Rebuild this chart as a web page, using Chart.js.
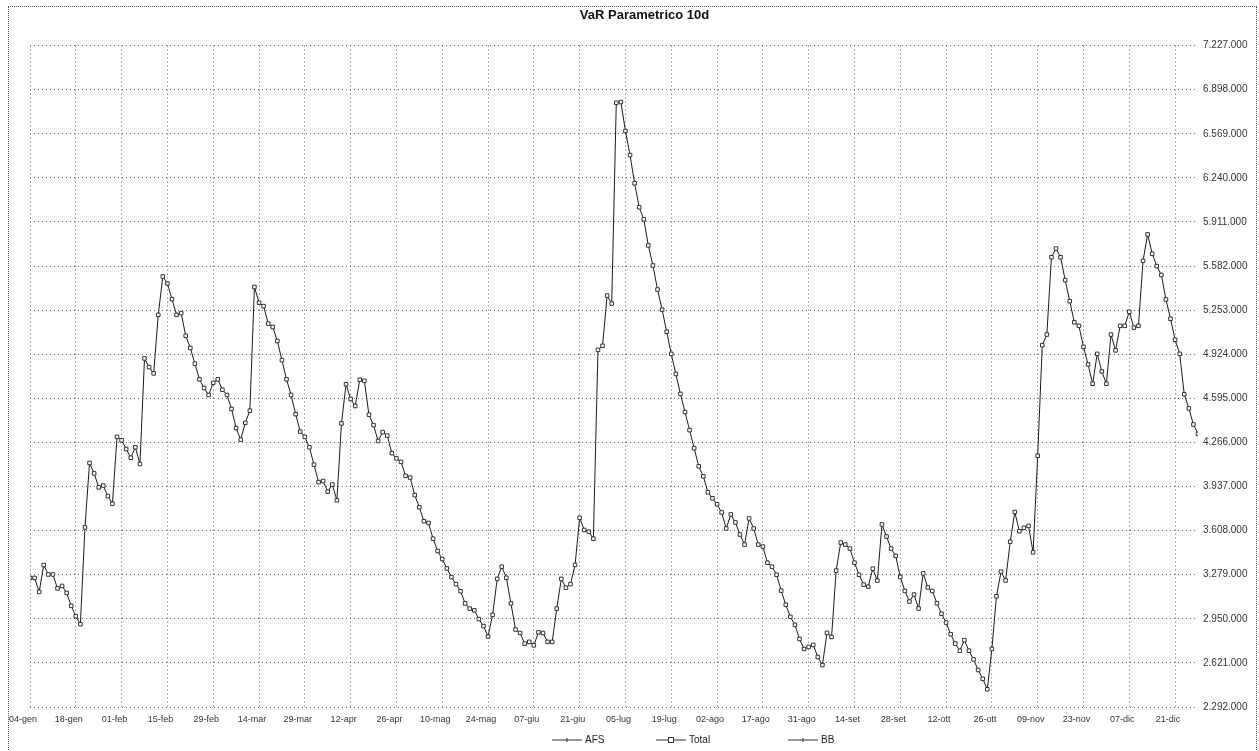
<!DOCTYPE html>
<html>
<head>
<meta charset="utf-8">
<script src="https://cdn.jsdelivr.net/npm/chart.js@4.4.1/dist/chart.umd.min.js"></script>
<style>
  body { margin: 0; background: #fff; }
  #wrap { position: relative; width: 1259px; height: 751px; }
  #frame { position: absolute; left: 8px; top: 6px; width: 1247px; height: 760px; border: 1px dotted #555; }
  canvas { position: absolute; left: 0; top: 0; }
</style>
</head>
<body>
<div id="wrap">
  <div id="frame"></div>
  <canvas id="myChart" width="1259" height="751"></canvas>
</div>
<script>
// x tick labels, one every 10 business days
const tickLabels = ['04-gen', '18-gen', '01-feb', '15-feb', '29-feb', '14-mar', '29-mar', '12-apr', '26-apr',
    '10-mag', '24-mag', '07-giu', '21-giu', '05-lug', '19-lug', '02-ago', '17-ago', '31-ago', '14-set',
    '28-set', '12-ott', '26-ott', '09-nov', '23-nov', '07-dic', '21-dic'];

const seriesNames = ['AFS', 'Total', 'BB'];

// VaR total, daily values (euro)
const totalVaR = [
    3255000, 3255000, 3151000, 3351000, 3281000, 3281000, 3177000, 3195000, 3143000, 3047000,
    2969000, 2910000, 3632000, 4113000, 4035000, 3931000, 3944000, 3866000, 3809000, 4308000,
    4282000, 4217000, 4152000, 4230000, 4105000, 4893000, 4828000, 4781000, 5218000, 5504000,
    5452000, 5335000, 5218000, 5231000, 5062000, 4971000, 4854000, 4737000, 4672000, 4620000,
    4711000, 4737000, 4659000, 4620000, 4516000, 4373000, 4287000, 4412000, 4503000, 5426000,
    5309000, 5283000, 5153000, 5127000, 5023000, 4880000, 4737000, 4620000, 4477000, 4347000,
    4308000, 4230000, 4100000, 3970000,
    3978000, 3899000, 3952000, 3834000, 4408000, 4700000, 4590000, 4538000, 4734000, 4726000,
    4473000, 4395000, 4277000, 4343000, 4317000, 4186000, 4147000, 4121000, 4017000, 4004000,
    3873000, 3782000, 3678000, 3665000, 3548000, 3456000, 3396000, 3326000, 3261000, 3209000,
    3156000, 3065000, 3026000, 3013000, 2948000, 2896000, 2818000, 2979000, 3248000, 3339000,
    3256000, 3065000, 2870000, 2844000, 2765000, 2778000, 2752000, 2849000, 2844000, 2778000,
    2778000, 3026000, 3248000, 3182000, 3209000, 3352000, 3704000, 3613000, 3600000, 3548000,
    4957000, 4987000, 5362000, 5302000, 6800000, 6806000, 6590000, 6410000, 6200000, 6021000,
    5931000, 5736000, 5586000, 5407000, 5257000, 5092000, 4927000, 4777000, 4628000, 4493000,
    4358000, 4223000, 4088000, 4013000, 3894000, 3849000, 3804000, 3744000, 3624000, 3729000,
    3669000, 3579000, 3504000, 3699000, 3624000, 3504000, 3489000, 3369000, 3339000, 3279000,
    3160000, 3055000, 2965000, 2905000, 2800000, 2725000, 2740000, 2755000, 2665000, 2605000,
    2845000, 2815000, 3310000, 3519000, 3504000, 3474000, 3369000, 3279000, 3205000, 3190000,
    3324000, 3235000, 3654000, 3564000, 3474000,
    3420000, 3262000, 3158000, 3079000, 3131000, 3027000, 3289000, 3184000, 3158000, 3066000,
    2988000, 2922000, 2835000, 2765000, 2712000, 2791000, 2712000, 2647000, 2568000, 2502000,
    2424000, 2725000, 3118000, 3302000, 3236000, 3525000, 3747000, 3603000, 3629000, 3643000,
    3446000, 4167000, 4992000, 5071000, 5648000, 5713000, 5648000, 5477000, 5320000, 5163000,
    5136000, 4979000, 4848000, 4704000, 4927000, 4796000, 4704000, 5071000, 4953000, 5136000,
    5136000, 5241000, 5123000, 5136000, 5621000, 5818000, 5674000, 5582000, 5516000, 5333000,
    5189000, 5032000, 4927000, 4625000, 4520000, 4400000, 4330000
];

// AFS and BB are in the legend only
const afsVaR = [];
const bbVaR = [];

const yMin = 2292000;
const yMax = 7227000;
const yStep = 329000;

function fmt(v) {
    return String(v).replace(/\B(?=(\d{3})+(?!\d))/g, '.');
}

function toPoints(arr) {
    return arr.map((v, i) => ({ x: i, y: v }));
}

// legend drawn by hand so the items sit where the original has them
const legendPlugin = {
    id: 'manualLegend',
    afterDraw(chart) {
        const ctx = chart.ctx;
        const xs = [552, 656, 788];
        const y = 740;
        ctx.save();
        ctx.font = '10px "Liberation Sans", Arial, sans-serif';
        ctx.textBaseline = 'middle';
        chart.data.datasets.forEach((ds, k) => {
            const x = xs[k];
            ctx.strokeStyle = '#333';
            ctx.lineWidth = 1;
            ctx.beginPath();
            ctx.moveTo(x, y);
            ctx.lineTo(x + 30, y);
            ctx.stroke();
            if (ds.pointStyle === 'rect') {
                ctx.fillStyle = '#fff';
                ctx.fillRect(x + 12, y - 3, 6, 6);
                ctx.strokeRect(x + 12.5, y - 2.5, 5, 5);
            } else {
                ctx.beginPath();
                ctx.moveTo(x + 15, y - 2);
                ctx.lineTo(x + 15, y + 2);
                ctx.stroke();
            }
            ctx.fillStyle = '#222';
            ctx.fillText(ds.label, x + 33, y);
        });
        ctx.restore();
    }
};

const ctx = document.getElementById('myChart').getContext('2d');
const myChart = new Chart(ctx, {
    type: 'line',
    data: {
        datasets: [
            { label: seriesNames[0], data: toPoints(afsVaR), borderColor: '#555', pointStyle: 'triangle' },
            {
                label: seriesNames[1],
                data: toPoints(totalVaR),
                borderColor: '#1a1a1a',
                borderWidth: 1,
                pointStyle: 'rect',
                pointRadius: 2.5,
                pointBorderWidth: 1,
                pointBorderColor: '#333',
                pointBackgroundColor: '#fff',
                tension: 0
            },
            { label: seriesNames[2], data: toPoints(bbVaR), borderColor: '#555', pointStyle: 'line' }
        ]
    },
    options: {
        responsive: false,
        animation: false,
        layout: { padding: { left: 30, right: 0, top: 0, bottom: 24 } },
        plugins: {
            legend: { display: false },
            tooltip: { enabled: false },
            title: {
                display: true,
                text: 'VaR Parametrico 10d',
                color: '#111',
                font: { family: '"Liberation Sans", Arial, sans-serif', size: 13, weight: 'bold' },
                padding: { top: 8, bottom: 22 }
            }
        },
        scales: {
            x: {
                type: 'linear',
                min: 0,
                max: totalVaR.length - 1,
                afterFit: s => { s.height = 20; },
                grid: { color: '#666', drawTicks: false },
                border: { display: false, dash: [1, 3] },
                ticks: {
                    stepSize: 10,
                    includeBounds: false,
                    autoSkip: false,
                    maxRotation: 0,
                    padding: 7,
                    labelOffset: -7,
                    color: '#333',
                    font: { family: '"Liberation Sans", Arial, sans-serif', size: 9 },
                    callback: v => tickLabels[v / 10] || ''
                }
            },
            y: {
                position: 'right',
                min: yMin,
                max: yMax,
                afterFit: s => { s.width = 61; },
                grid: { color: '#666', drawTicks: false },
                border: { display: false, dash: [1, 3] },
                ticks: {
                    stepSize: yStep,
                    padding: 5,
                    color: '#333',
                    font: { family: '"Liberation Sans", Arial, sans-serif', size: 10 },
                    callback: v => fmt(v)
                }
            }
        }
    },
    plugins: [legendPlugin]
});
</script>
</body>
</html>
